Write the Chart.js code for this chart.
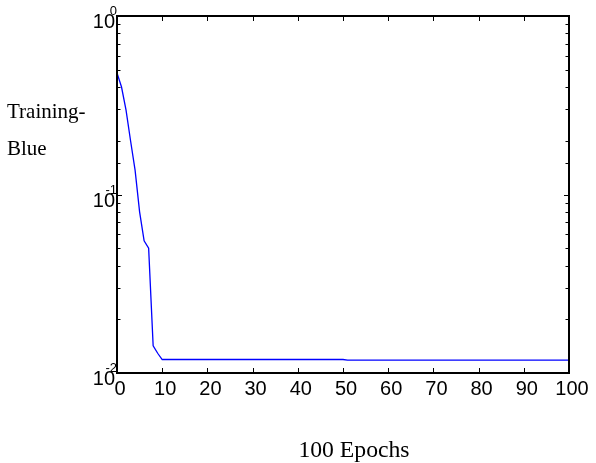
<!doctype html>
<html lang="en">

<head>
    <meta charset="utf-8">
    <title>Training-Blue</title>
    <style>
        * {
            margin: 0;
            padding: 0;
        }

        body {
            background: white;
        }

        .chartBox {
            width: 596px;
            height: 463px;
        }
    </style>
</head>

<body>
    <div class="chartBox">
        <canvas id="myChart"></canvas>
    </div>

    <script src="https://cdn.jsdelivr.net/npm/chart.js"></script>
    <script>
        // data
        const epochs = [0, 1, 2, 3, 4, 5, 6, 7, 8, 9, 10, 50, 51, 100];
        const trainLoss = [0.48, 0.40, 0.297, 0.20, 0.137, 0.080, 0.055, 0.050, 0.0142, 0.0129, 0.0119, 0.0119, 0.0118, 0.0118];

        const xTicks = [0, 10, 20, 30, 40, 50, 60, 70, 80, 90, 100];
        const yMajorTicks = [1, 0.1, 0.01];
        const yTickExponents = ['0', '-1', '-2'];

        const points = epochs.map(function (e, i) {
            return { x: e, y: trainLoss[i] };
        });

        // box, inward ticks and all labels
        const matlabAxes = {
            id: 'matlabAxes',
            afterDraw: function (chart) {
                const ctx = chart.ctx;
                const area = chart.chartArea;
                const xs = chart.scales.x;
                const ys = chart.scales.y;
                ctx.save();

                ctx.strokeStyle = '#000';
                ctx.lineWidth = 1;
                ctx.beginPath();
                xTicks.forEach(function (v) {
                    const px = Math.round(xs.getPixelForValue(v)) + 0.5;
                    ctx.moveTo(px, area.bottom);
                    ctx.lineTo(px, area.bottom - 5);
                    ctx.moveTo(px, area.top);
                    ctx.lineTo(px, area.top + 5);
                });
                ys.ticks.forEach(function (t) {
                    const py = Math.round(ys.getPixelForValue(t.value)) + 0.5;
                    const len = yMajorTicks.indexOf(t.value) >= 0 ? 5 : 3.5;
                    ctx.moveTo(area.left, py);
                    ctx.lineTo(area.left + len, py);
                    ctx.moveTo(area.right, py);
                    ctx.lineTo(area.right - len, py);
                });
                ctx.stroke();

                ctx.lineWidth = 2;
                ctx.strokeRect(area.left, area.top, area.right - area.left, area.bottom - area.top);

                ctx.fillStyle = '#000';
                ctx.font = '20px "Liberation Sans", Arial, sans-serif';
                ctx.textAlign = 'center';
                ctx.textBaseline = 'alphabetic';
                xTicks.forEach(function (v) {
                    ctx.fillText(String(v), xs.getPixelForValue(v) + 3, area.bottom + 22);
                });

                ctx.textAlign = 'right';
                yMajorTicks.forEach(function (v, i) {
                    const py = ys.getPixelForValue(v);
                    ctx.font = '20px "Liberation Sans", Arial, sans-serif';
                    ctx.fillText('10', area.left - 2, py + 12);
                    ctx.font = '13px "Liberation Sans", Arial, sans-serif';
                    ctx.fillText(yTickExponents[i], area.left, py - 1);
                });

                ctx.font = '21px "Liberation Serif", "Times New Roman", serif';
                ctx.textAlign = 'left';
                ctx.fillText('Training-', 7, 118);
                ctx.fillText('Blue', 7, 155);

                ctx.font = '23.7px "Liberation Serif", "Times New Roman", serif';
                ctx.textAlign = 'center';
                ctx.fillText('100 Epochs', 354, 457);

                ctx.restore();
            }
        };

        const config = {
            type: 'line',
            data: {
                datasets: [{
                    label: 'Training',
                    data: points,
                    borderColor: '#0000ff',
                    borderWidth: 1.3,
                    pointRadius: 0,
                    tension: 0,
                    fill: false
                }]
            },
            options: {
                responsive: false,
                animation: false,
                layout: {
                    padding: { left: 117, top: 16, right: 27, bottom: 90 }
                },
                plugins: {
                    legend: { display: false },
                    tooltip: { enabled: false }
                },
                scales: {
                    x: {
                        type: 'linear',
                        display: false,
                        min: 0,
                        max: 100
                    },
                    y: {
                        type: 'logarithmic',
                        display: false,
                        min: 0.01,
                        max: 1
                    }
                }
            },
            plugins: [matlabAxes]
        };

        const canvas = document.getElementById('myChart');
        canvas.width = 596;
        canvas.height = 463;
        window.chart = new Chart(canvas, config);
    </script>
</body>

</html>
